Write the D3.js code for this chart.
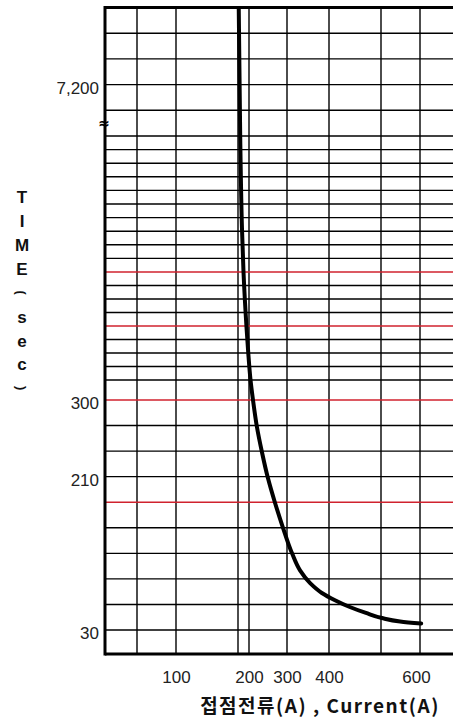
<!DOCTYPE html>
<html>
<head>
<meta charset="utf-8">
<script src="https://cdn.jsdelivr.net/npm/d3@7/dist/d3.min.js"></script>
<style>
  html, body { margin: 0; padding: 0; background: #fff; }
  svg { display: block; }
</style>
</head>
<body>
<div id="chart"></div>
<script>
// current grid lines (A) - the sheet is hand ruled, so not a true log scale
const currentGrid = [50, 100, 185, 200, 300, 400, 500, 600];
const currentTicks = [100, 200, 300, 400, 600];

// time grid lines (sec)
const timeGrid = [30, 60, 90, 120, 150, 180, 210, 240, 270, 300,
  360, 420, 480, 540, 600, 750, 900, 1050, 1200,
  1440, 1680, 1920, 2160, 2400, 2640, 2880, 3120, 3360, 3600,
  5400, 7200, 9000, 10800];
const timeRed = [180, 300, 600, 1200];
const timeTicks = [30, 210, 300, 7200];
const timeTickLabels = ["30", "210", "300", "7,200"];

// trip curve
const curveCurrent = [186, 188, 190.5, 192.5, 196.5, 199, 204, 210.5, 221, 234, 250, 268,
  289.5, 312, 331, 355, 383, 411.5, 440, 471, 502.5, 549, 603];
const curveTime = [12600, 3600, 1940, 1200, 600, 480, 360, 300, 268, 239, 208, 180,
  150, 120, 100, 85, 73.5, 65, 57, 50, 44, 40, 37.5];

const yTitle = ["T", "I", "M", "E", "(", "s", "e", "c", ")"];
const xTitle = "접점전류(A) , Current(A)";

const width = 453, height = 717;
const plot = { left: 105, top: 7.5, right: 453, bottom: 654 };

const svg = d3.select("#chart")
  .append("svg")
    .attr("width", width)
    .attr("height", height);

// piecewise scales, following the ruled paper
const x = d3.scaleLinear()
  .domain([0, 50, 100, 185, 200, 300, 400, 500, 600, 685])
  .range([plot.left, 137, 176, 238, 249, 287, 329, 381, 420, plot.right]);

const y = d3.scaleLinear()
  .domain([0, 30, 300, 360, 600, 1200, 3600, 12600])
  .range([plot.bottom, 630, 400, 380, 326, 272, 136, plot.top]);

svg.append("clipPath")
    .attr("id", "clip")
  .append("rect")
    .attr("x", plot.left)
    .attr("y", plot.top)
    .attr("width", plot.right - plot.left)
    .attr("height", plot.bottom - plot.top);

const grid = svg.append("g");

// vertical lines
grid.selectAll("line.v")
  .data(currentGrid)
  .enter().append("line")
    .attr("class", "v")
    .attr("x1", d => x(d)).attr("x2", d => x(d))
    .attr("y1", plot.top).attr("y2", plot.bottom)
    .attr("stroke", "#000")
    .attr("stroke-width", 1.4);

// horizontal lines
grid.selectAll("line.h")
  .data(timeGrid.filter(d => !timeRed.includes(d)))
  .enter().append("line")
    .attr("class", "h")
    .attr("x1", plot.left).attr("x2", plot.right)
    .attr("y1", d => y(d)).attr("y2", d => y(d))
    .attr("stroke", "#000")
    .attr("stroke-width", 1.4);

grid.selectAll("line.r")
  .data(timeRed)
  .enter().append("line")
    .attr("class", "r")
    .attr("x1", plot.left).attr("x2", plot.right)
    .attr("y1", d => y(d)).attr("y2", d => y(d))
    .attr("stroke", "#d0222e")
    .attr("stroke-width", 1.5);

// curve
const line = d3.line()
  .x(d => x(d[0]))
  .y(d => y(d[1]))
  .curve(d3.curveMonotoneY);

svg.append("path")
  .datum(d3.zip(curveCurrent, curveTime))
  .attr("clip-path", "url(#clip)")
  .attr("fill", "none")
  .attr("stroke", "#000")
  .attr("stroke-width", 4)
  .attr("stroke-linecap", "round")
  .attr("d", line);

// frame
const frame = svg.append("g")
  .attr("stroke", "#000")
  .attr("stroke-width", 3);
frame.append("line")
  .attr("x1", plot.left).attr("x2", plot.left)
  .attr("y1", plot.top - 1.5).attr("y2", plot.bottom + 1.5);
frame.append("line")
  .attr("x1", plot.left).attr("x2", plot.right)
  .attr("y1", plot.top).attr("y2", plot.top);
frame.append("line")
  .attr("x1", plot.left).attr("x2", plot.right)
  .attr("y1", plot.bottom).attr("y2", plot.bottom);

// axes (labels only)
const xAxis = svg.append("g")
  .attr("transform", "translate(0," + plot.bottom + ")")
  .call(d3.axisBottom(x).tickValues(currentTicks).tickSize(0).tickPadding(17));

const yAxis = svg.append("g")
  .attr("transform", "translate(" + plot.left + ",0)")
  .call(d3.axisLeft(y).tickValues(timeTicks).tickSize(0).tickPadding(6)
    .tickFormat((d, i) => timeTickLabels[i]));

[xAxis, yAxis].forEach(a => {
  a.select(".domain").remove();
  a.selectAll("text")
    .attr("fill", "#222")
    .style("font-family", "'Liberation Sans', Arial, sans-serif")
    .style("font-size", "17px");
});
yAxis.selectAll("text").attr("dy", "0.5em");
xAxis.selectAll("text").filter(d => d === 600).attr("dx", "-4");

// axis break mark
svg.append("text")
  .attr("x", plot.left - 1)
  .attr("y", 128)
  .attr("text-anchor", "middle")
  .style("font-family", "'DejaVu Sans', sans-serif")
  .style("font-weight", "bold")
  .style("font-size", "14px")
  .text("≈");

// stacked y title, brackets turned sideways
svg.append("g")
  .selectAll("text")
  .data(yTitle)
  .enter().append("text")
    .attr("text-anchor", "middle")
    .attr("transform", (d, i) => {
      const cy = 197 + i * 23.9;
      return d === "(" || d === ")"
        ? "translate(22," + cy + ") rotate(90)"
        : "translate(22," + cy + ")";
    })
    .attr("dy", "0.36em")
    .style("font-family", "'Liberation Sans', Arial, sans-serif")
    .style("font-weight", "bold")
    .style("font-size", d => (d === "(" || d === ")") ? "13px" : "17px")
    .attr("fill", "#111")
    .text(d => d);

svg.append("text")
  .attr("x", 320)
  .attr("y", 713)
  .attr("text-anchor", "middle")
  .style("font-family", "'Noto Sans CJK KR', 'Liberation Sans', sans-serif")
  .style("font-weight", "bold")
  .style("font-size", "19px")
  .style("letter-spacing", "1.5px")
  .attr("fill", "#111")
  .text(xTitle);
</script>
</body>
</html>
